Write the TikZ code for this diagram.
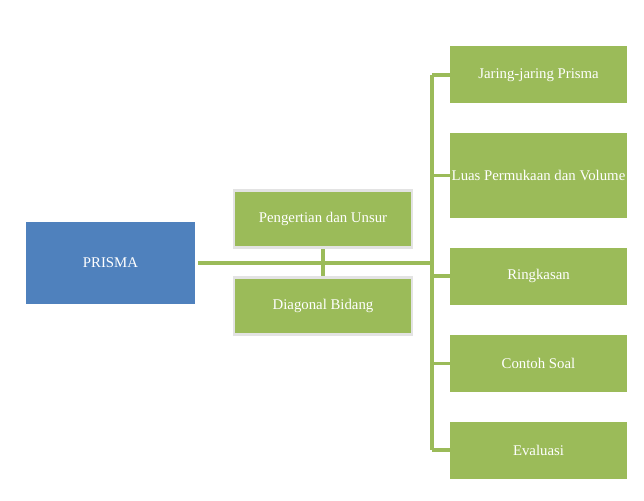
\documentclass[tikz,border=0pt]{standalone}
\usepackage{fontspec}
\setmainfont{Liberation Serif}
\usepackage{xcolor}
\definecolor{prismablue}{HTML}{4F81BD}
\definecolor{leafgreen}{HTML}{9BBB59}
\definecolor{edgegray}{HTML}{E3E3E3}

\begin{document}
\begin{tikzpicture}[
    x=1pt, y=-1pt,
    topic/.style={fill=leafgreen, minimum width=177pt, minimum height=57pt, align=center, text=white, font=\fontsize{14.8}{17}\selectfont, inner sep=0pt},
    root/.style={fill=prismablue, minimum width=169pt, minimum height=82pt, text=white, font=\fontsize{14.8}{17}\selectfont},
    sub/.style={fill=leafgreen, draw=edgegray, line width=2.5pt, minimum width=178pt, minimum height=57pt, text=white, font=\fontsize{14.8}{17}\selectfont},
    link/.style={draw=leafgreen, line width=3.5pt}
]
    \useasboundingbox (0,0) rectangle (644,500);

    \node[root] (prisma) at (110.5,263) {PRISMA};
    \node[sub] (pengertian) at (323,219) {Pengertian dan Unsur};
    \node[sub] (diagonal) at (323,306) {Diagonal Bidang};

    \node[topic] (jaring) at (538.5,75) {Jaring-jaring Prisma};
    \node[topic, minimum height=85pt] (luas) at (538.5,175.5) {Luas Permukaan dan Volume};
    \node[topic] (ringkasan) at (538.5,276) {Ringkasan};
    \node[topic] (contoh) at (538.5,363.5) {Contoh Soal};
    \node[topic] (evaluasi) at (538.5,450) {Evaluasi};

    \coordinate (trunk) at (432,263);
    \coordinate (trunktop) at (432,75);
    \coordinate (trunkbot) at (432,450);

    \draw[link] ([xshift=3pt]prisma.east) -- (trunk);
    \draw[link] (pengertian.south) -- (diagonal.north);
    \draw[link] (trunktop) -- (trunkbot);
    \foreach \t in {jaring, luas, ringkasan, contoh, evaluasi}
        \draw[link] (trunk |- \t.west) -- (\t.west);
\end{tikzpicture}
\end{document}
